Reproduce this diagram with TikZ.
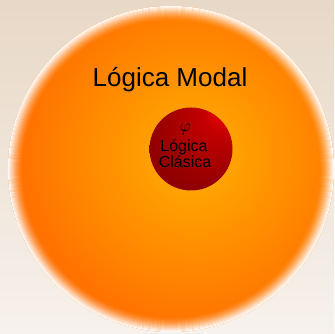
\documentclass[tikz,border=0pt]{standalone}
\usepackage{fontspec}
\setmainfont{Liberation Sans}
\usetikzlibrary{fadings}
\definecolor{bgtop}{RGB}{232,216,198}
\definecolor{bgbot}{RGB}{247,242,237}
\definecolor{orEdge}{RGB}{255,104,0}
\definecolor{orGlow}{RGB}{255,176,0}
\definecolor{hlred}{RGB}{240,0,0}
\definecolor{hl2red}{RGB}{195,0,0}
\definecolor{midred}{RGB}{150,0,0}
\definecolor{dkred}{RGB}{115,0,0}
\pgfdeclareradialshading{ballsh}{\pgfpoint{22bp}{25bp}}{color(0bp)=(hlred); color(3bp)=(hlred); color(12bp)=(hl2red); color(35bp)=(midred); color(62bp)=(dkred); color(85bp)=(dkred)}
\tikzfading[name=glowfade, inner color=transparent!0, outer color=transparent!100]
\tikzset{
  bigtext/.style={font=\fontsize{26}{30}\selectfont, anchor=base, inner sep=0pt},
  smalltext/.style={font=\fontsize{16}{16}\selectfont, anchor=base, inner sep=0pt},
}
\begin{document}
\begin{tikzpicture}[x=1pt,y=1pt]
\useasboundingbox (0,0) rectangle (334,334);
\shade[top color=bgtop, bottom color=bgbot] (0,0) rectangle (334,334);
\node[circle, fill=orEdge, minimum size=326pt, inner sep=0pt] (modal) at (171,165) {};
\begin{scope}
  \clip (modal.center) circle (163);
  \fill[orGlow, path fading=glowfade] (194,178) circle (200);
\end{scope}
\foreach \i in {0,...,15} {
  \pgfmathsetmacro\op{0.95*(1-\i/15)^1.7}
  \draw[white, opacity=\op, line width=1.2pt] (modal.center) circle (162.5-\i);
}
\node[circle, minimum size=83pt, inner sep=0pt, shade, shading=ballsh] (ball) at (191,185) {};
\node[bigtext] (modaltxt) at (170,247.5) {Lógica Modal};
\node[font=\fontsize{19}{19}\selectfont, inner sep=0pt] (phi) at (185.5,204.5) {$\varphi$};
\node[smalltext] (l1) at (184,182) {Lógica};
\node[smalltext] (l2) at (185,166) {Clásica};
\end{tikzpicture}
\end{document}
